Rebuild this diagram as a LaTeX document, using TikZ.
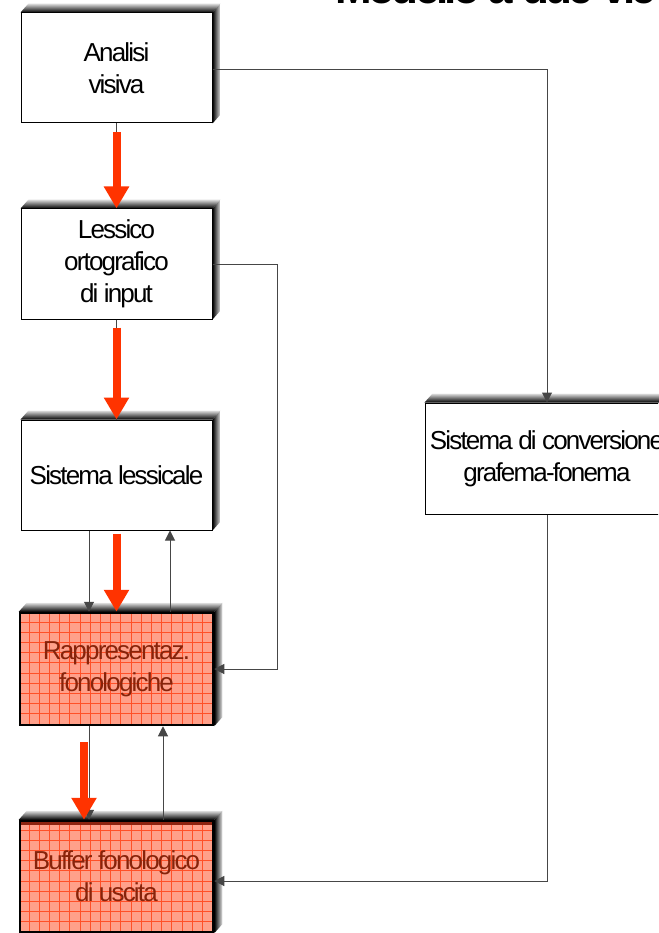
\documentclass[tikz,border=0pt]{standalone}
\usepackage{fontspec}
\usetikzlibrary{arrows.meta,calc,backgrounds}
\newfontfamily\boxfont{Liberation Sans}[LetterSpace=-7]
\newfontfamily\titlefont{Liberation Sans}[LetterSpace=-8]
\definecolor{redarrow}{RGB}{255,51,0}
\definecolor{salmon}{RGB}{255,160,138}
\definecolor{gridred}{RGB}{255,80,40}
\definecolor{brtext}{RGB}{135,35,10}
\definecolor{band}{RGB}{140,35,15}
\definecolor{linegray}{RGB}{70,70,70}
\tikzset{
  box/.style={draw=black, line width=1pt, minimum width=191pt, minimum height=110pt,
    inner sep=0pt, align=center, font=\boxfont\fontsize{26}{32}\selectfont},
  hotbox/.style={box, line width=2.5pt, text=brtext},
  conn/.style={draw=linegray, line width=1pt},
  connarrow/.style={conn, -{Triangle[width=10pt,length=10pt]}},
  bigarrow/.style={draw=redarrow, line width=8pt, -{Triangle[width=24pt,length=22pt]}},
}
\newcommand{\boxshadow}[1]{%
  \shade[top color=black!12, bottom color=black] (#1.north west) -- ++(8,-9) -- ($(#1.north east)+(8,-9)$) -- (#1.north east) -- cycle;
  \shade[left color=black, right color=black!12] (#1.north east) -- ++(8,-9) -- ($(#1.south east)+(8,-9)$) -- (#1.south east) -- cycle;}
\newcommand{\gridfill}[1]{%
  \begin{scope}
    \clip (#1.north west) rectangle (#1.south east);
    \fill[salmon] (#1.north west) rectangle (#1.south east);
    \foreach \i in {1,...,19} \draw[gridred, line width=0.6pt] ([xshift=\i*10.2pt]#1.north west) -- ([xshift=\i*10.2pt]#1.south west);
    \foreach \j in {1,...,11} \draw[gridred, line width=0.6pt] ([yshift=-\j*10.2pt]#1.north west) -- ([yshift=-\j*10.2pt]#1.north east);
  \end{scope}}
\begin{document}
\begin{tikzpicture}[x=1pt,y=-1pt]
\useasboundingbox (0,0) rectangle (658,933);
\clip (0,0) rectangle (658,933);
\node[anchor=base west, inner sep=0pt, font=\titlefont\bfseries\fontsize{44}{50}\selectfont] (title) at (335,4) {Modello a due vie};
\node[box] (av) at (116.5,68) {Analisi\\visiva};
\node[box] (lo) at (116.5,264) {Lessico\\ortografico\\di input};
\node[box] (sl) at (116.5,475) {Sistema lessicale};
\node[hotbox, minimum width=193pt, minimum height=112pt] (rf) at (116.5,669) {Rappresentaz.\\fonologiche};
\node[hotbox, minimum width=193pt, minimum height=111pt] (bf) at (116.5,876.5) {Buffer fonologico\\di uscita};
\node[box, minimum width=244pt, minimum height=111pt] (gf) at (547,458.5) {Sistema di conversione\\grafema-fonema};
\begin{pgfonlayer}{background}
  \fill[white] (0,0) rectangle (658,933);
  \boxshadow{av}
  \boxshadow{lo}
  \boxshadow{sl}
  \boxshadow{rf}
  \boxshadow{bf}
  \boxshadow{gf}
  \gridfill{rf}
  \gridfill{bf}
  \fill[band] (bf.north west) rectangle ([yshift=-5pt]bf.north east);
\end{pgfonlayer}
\draw[connarrow] ([yshift=-2pt]av.east) -| (gf.north);
\draw[connarrow] (lo.east) -- ++(65,0) |- (rf.east);
\draw[connarrow] (gf.south) |- ([yshift=-4.5pt]bf.east);
\draw[connarrow] ([xshift=-27.5pt]sl.south) -- ([xshift=-27.5pt]rf.north);
\draw[connarrow] ([xshift=53.5pt]rf.north) -- ([xshift=53.5pt]sl.south);
\draw[connarrow] ([xshift=-27.5pt]rf.south) -- ([xshift=-27.5pt]bf.north);
\draw[connarrow] ([xshift=46.5pt]bf.north) -- ([xshift=46.5pt]rf.south);
\draw[conn] (av.south) -- (lo.north);
\draw[conn] (lo.south) -- (sl.north);
\draw[bigarrow] ([yshift=-9pt]av.south) -- (lo.north);
\draw[bigarrow] ([yshift=-8pt]lo.south) -- (sl.north);
\draw[bigarrow] ([yshift=-3pt]sl.south) -- (rf.north);
\draw[bigarrow] ([xshift=-32.5pt,yshift=-16pt]rf.south) -- ([xshift=-32.5pt]bf.north);
\end{tikzpicture}
\end{document}
